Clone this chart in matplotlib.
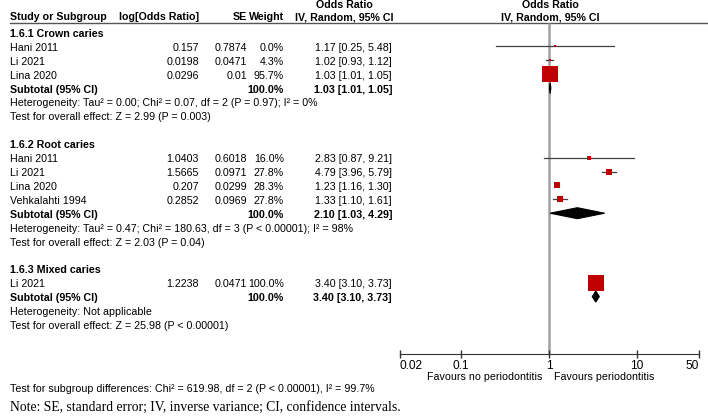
import matplotlib
matplotlib.use("Agg")
from matplotlib import pyplot as plt
from matplotlib.ticker import NullLocator

plt.rcParams['font.family'] = ['Liberation Sans', 'DejaVu Sans']

# ---- data ----
crown_names = ["Hani 2011", "Li 2021", "Lina 2020"]
crown_logor = ["0.157", "0.0198", "0.0296"]
crown_se = ["0.7874", "0.0471", "0.01"]
crown_weight = [0.0, 4.3, 95.7]
crown_or = [1.17, 1.02, 1.03]
crown_lo = [0.25, 0.93, 1.01]
crown_hi = [5.48, 1.12, 1.05]
crown_sub = [1.03, 1.01, 1.05]

root_names = ["Hani 2011", "Li 2021", "Lina 2020", "Vehkalahti 1994"]
root_logor = ["1.0403", "1.5665", "0.207", "0.2852"]
root_se = ["0.6018", "0.0971", "0.0299", "0.0969"]
root_weight = [16.0, 27.8, 28.3, 27.8]
root_or = [2.83, 4.79, 1.23, 1.33]
root_lo = [0.87, 3.96, 1.16, 1.10]
root_hi = [9.21, 5.79, 1.30, 1.61]
root_sub = [2.10, 1.03, 4.29]

mixed_names = ["Li 2021"]
mixed_logor = ["1.2238"]
mixed_se = ["0.0471"]
mixed_weight = [100.0]
mixed_or = [3.40]
mixed_lo = [3.10]
mixed_hi = [3.73]
mixed_sub = [3.40, 3.10, 3.73]

titles = ["1.6.1 Crown caries", "1.6.2 Root caries", "1.6.3 Mixed caries"]
het_text = ["Heterogeneity: Tau² = 0.00; Chi² = 0.07, df = 2 (P = 0.97); I² = 0%",
            "Heterogeneity: Tau² = 0.47; Chi² = 180.63, df = 3 (P < 0.00001); I² = 98%",
            "Heterogeneity: Not applicable"]
effect_text = ["Test for overall effect: Z = 2.99 (P = 0.003)",
               "Test for overall effect: Z = 2.03 (P = 0.04)",
               "Test for overall effect: Z = 25.98 (P < 0.00001)"]
xticks = [0.02, 0.1, 1, 10, 50]
xtick_labels = ["0.02", "0.1", "1", "10", "50"]

groups = [
    (crown_names, crown_logor, crown_se, crown_weight, crown_or, crown_lo, crown_hi, crown_sub),
    (root_names, root_logor, root_se, root_weight, root_or, root_lo, root_hi, root_sub),
    (mixed_names, mixed_logor, mixed_se, mixed_weight, mixed_or, mixed_lo, mixed_hi, mixed_sub),
]

# ---- layout (pixels) ----
W, H = 708, 418
FS = 7.7
RED = "#c00000"
X_NAME, X_LOG, X_SE, X_W, X_CI = 10, 199, 247, 284, 392
PX0, PX1 = 399.5, 698.5


def ypx(i):
    return 34 + 13.9 * i


fig = plt.figure(figsize=(W / 100, H / 100), dpi=100)
tx = fig.add_axes([0, 0, 1, 1])
tx.set_xlim(0, W)
tx.set_ylim(H, 0)
tx.axis('off')

ax = fig.add_axes([PX0 / W, 0, (PX1 - PX0) / W, 1], zorder=2)
ax.patch.set_alpha(0)
ax.set_xscale('log')
ax.set_xlim(0.02, 50)
ax.set_ylim(H, 0)

# headers
tx.text(344, 5, "Odds Ratio", fontsize=FS, fontweight='bold', ha='center', va='center')
tx.text(550, 5, "Odds Ratio", fontsize=FS, fontweight='bold', ha='center', va='center')
hy = 17.5
tx.text(X_NAME, hy, "Study or Subgroup", fontsize=FS, fontweight='bold', va='center')
tx.text(X_LOG, hy, "log[Odds Ratio]", fontsize=FS, fontweight='bold', ha='right', va='center')
tx.text(X_SE, hy, "SE", fontsize=FS, fontweight='bold', ha='right', va='center')
tx.text(X_W, hy, "Weight", fontsize=FS, fontweight='bold', ha='right', va='center')
tx.text(344, hy, "IV, Random, 95% CI", fontsize=FS, fontweight='bold', ha='center', va='center')
tx.text(550, hy, "IV, Random, 95% CI", fontsize=FS, fontweight='bold', ha='center', va='center')
tx.plot([10, 707], [22.5, 22.5], color="#555555", lw=1)

# vertical line of no effect
ax.vlines(1, 22.5, 353.5, color="#a0a0a0", lw=1.8, zorder=1)

row = 0
for g, (names, logor, se, wt, orv, lo, hi, sub) in enumerate(groups):
    tx.text(X_NAME, ypx(row), titles[g], fontsize=FS, fontweight='bold', va='center')
    row += 1
    for k in range(len(names)):
        y = ypx(row)
        tx.text(X_NAME, y, names[k], fontsize=FS, va='center')
        tx.text(X_LOG, y, logor[k], fontsize=FS, ha='right', va='center')
        tx.text(X_SE, y, se[k], fontsize=FS, ha='right', va='center')
        tx.text(X_W, y, f"{wt[k]:.1f}%", fontsize=FS, ha='right', va='center')
        tx.text(X_CI, y, f"{orv[k]:.2f} [{lo[k]:.2f}, {hi[k]:.2f}]", fontsize=FS,
                ha='right', va='center')
        ym = y - 1.5
        ax.plot([lo[k], hi[k]], [ym, ym], color="#404040", lw=0.9, zorder=3)
        size = (2 + 14 * wt[k] / 100) * 0.72
        ax.plot(orv[k], ym, marker='s', ms=size, color=RED, mec=RED, mew=0, zorder=4)
        row += 1
    y = ypx(row)
    tx.text(X_NAME, y, "Subtotal (95% CI)", fontsize=FS, fontweight='bold', va='center')
    tx.text(X_W, y, "100.0%", fontsize=FS, fontweight='bold', ha='right', va='center')
    tx.text(X_CI, y, f"{sub[0]:.2f} [{sub[1]:.2f}, {sub[2]:.2f}]", fontsize=FS,
            fontweight='bold', ha='right', va='center')
    ym = y - 1.5
    ax.fill([sub[1], sub[0], sub[2], sub[0]], [ym, ym - 5.5, ym, ym + 5.5],
            color="black", lw=0.8, zorder=4)
    row += 1
    tx.text(X_NAME, ypx(row), het_text[g], fontsize=FS, va='center')
    row += 1
    tx.text(X_NAME, ypx(row), effect_text[g], fontsize=FS, va='center')
    row += 2

# axis
for s in ['top', 'left', 'right']:
    ax.spines[s].set_visible(False)
ax.spines['bottom'].set_position(('data', 353.5))
ax.spines['bottom'].set_color("#333333")
ax.set_xticks(xticks)
ax.set_xticklabels(xtick_labels)
ax.xaxis.set_minor_locator(NullLocator())
ax.set_yticks([])
ax.tick_params(axis='x', direction='inout', length=6, width=1, color="#333333",
               labelsize=8.6, pad=2)
ticklabels = ax.get_xticklabels()
ticklabels[0].set_ha('left')
ticklabels[-1].set_ha('right')

tx.text(542, 377.5, "Favours no periodontitis", fontsize=FS, ha='right', va='center')
tx.text(554, 377.5, "Favours periodontitis", fontsize=FS, ha='left', va='center')

tx.text(X_NAME, 389, "Test for subgroup differences: Chi² = 619.98, df = 2 (P < 0.00001), I² = 99.7%",
        fontsize=FS, va='center')
tx.text(X_NAME, 407, "Note: SE, standard error; IV, inverse variance; CI, confidence intervals.",
        fontsize=9.8, va='center', family=['Liberation Serif', 'DejaVu Serif'])

fig.savefig("out.png", dpi=100)
